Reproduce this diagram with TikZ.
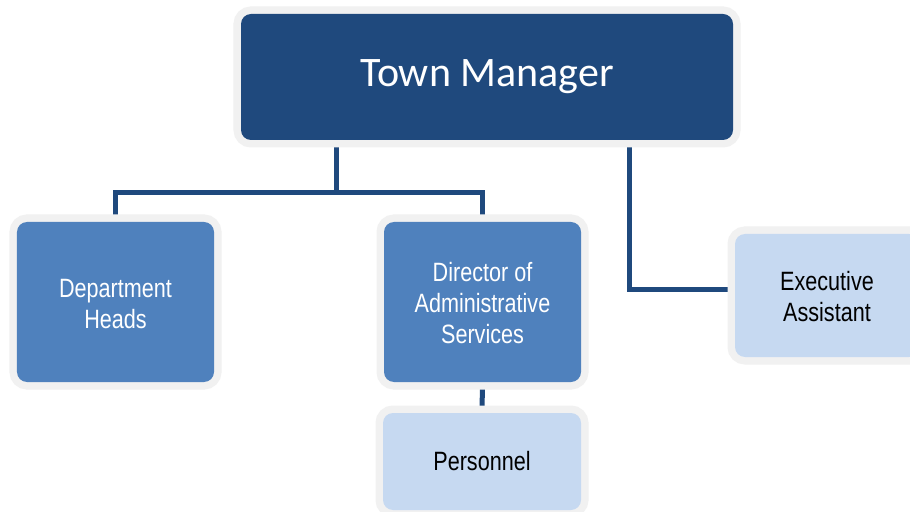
\documentclass[tikz,border=0pt]{standalone}
\usepackage{fontspec}
\setmainfont{Liberation Sans}
\newfontfamily\titlefont{Carlito}
\newfontfamily\labelfont[FakeStretch=0.815]{Liberation Sans}
\usetikzlibrary{backgrounds}
\definecolor{navy}{RGB}{31,73,125}
\definecolor{midblue}{RGB}{79,129,189}
\definecolor{paleblue}{RGB}{198,217,241}
\definecolor{rim}{RGB}{241,241,241}
\tikzset{
  orgbox/.style={rectangle, rounded corners=10bp, inner sep=0pt,
    preaction={draw=rim, line width=15bp},
    align=center, font=\labelfont\fontsize{26.5bp}{31bp}\selectfont},
  topbox/.style={orgbox, fill=navy, text=white,
    font=\titlefont\fontsize{42bp}{48bp}\selectfont},
  midbox/.style={orgbox, fill=midblue, text=white},
  lowbox/.style={orgbox, fill=paleblue, text=black},
  link/.style={draw=navy, line width=5bp, line join=miter}
}
\begin{document}
\begin{tikzpicture}[x=1bp, y=-1bp]
  \useasboundingbox (0,0) rectangle (910,512);
  \clip (0,0) rectangle (910,512);

  \node[topbox, minimum width=492bp, minimum height=126bp] (tm) at (487,77) {Town Manager};
  \node[midbox, minimum width=197bp, minimum height=160bp] (dept) at (115.5,302) {\strut Department\\Heads};
  \node[midbox, minimum width=197bp, minimum height=160bp] (dir) at (482.5,302) {\strut Director of\\Administrative\\Services};
  \node[lowbox, minimum width=198bp, minimum height=97bp] (pers) at (482,461.5) {Personnel};
  \node[lowbox, minimum width=184bp, minimum height=123bp] (exec) at (827,295.5) {\strut Executive\\Assistant};

  \coordinate (split) at (336,193);
  \coordinate (bend) at (629,290);

  % white page first, then the connectors, all beneath the boxes
  \begin{pgfonlayer}{background}
    \fill[white] (0,0) rectangle (910,512);
    \draw[link] (tm.south -| split) -- (split);
    \draw[link] (dept.north) -- (dept.north |- split) -- (dir.north |- split) -- (dir.north);
    \draw[link] (tm.south -| bend) -- (bend) -- (exec.west |- bend);
    \draw[link] (dir.south) -- (pers.north);
  \end{pgfonlayer}
\end{tikzpicture}
\end{document}
